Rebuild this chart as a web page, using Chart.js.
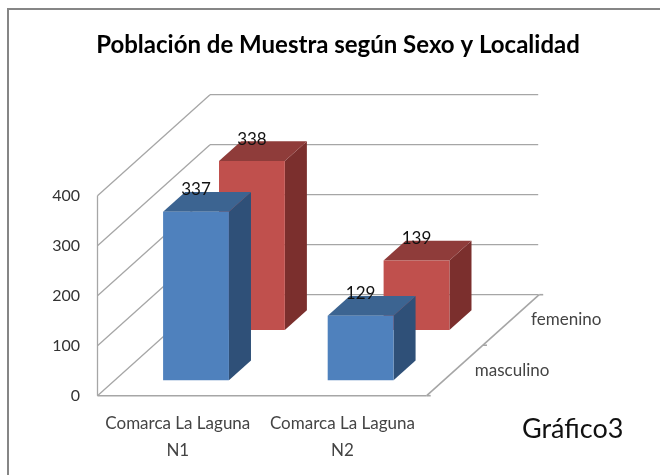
<!DOCTYPE html>
<html>
<head>
    <meta charset="utf-8"/>
    <title>Gráfico3</title>
    <script src="https://cdn.jsdelivr.net/npm/chart.js"></script>
    <style>
        html, body { margin: 0; padding: 0; background: #fff; }
        canvas { display: block; }
    </style>
</head>
<body>
    <canvas id="grafico" width="660" height="475"></canvas>

    <script>
        const titulo = 'Población de Muestra según Sexo y Localidad';
        const nota = 'Gráfico3';
        const categorias = [['Comarca La Laguna', 'N1'], ['Comarca La Laguna', 'N2']];
        const series = ['masculino', 'femenino'];
        const masculino = [337, 129];
        const femenino = [338, 139];
        const ticksY = [0, 100, 200, 300, 400];

        // Profundidad del piso en pixeles (de la pared frontal a la del fondo)
        const fondoX = 112.5;
        const fondoY = -101;
        // Cada serie ocupa una fila de profundidad
        const filaSerie = [0.153, 0.65];
        const grosorBarra = 0.196;
        const ajusteX = -1;

        const coloresFrente = ['#4f81bd', '#c0504d'];
        const coloresArriba = ['#3c6491', '#8f3c3a'];
        const coloresLado = ['#2f5078', '#7b2f2d'];

        function linea(ctx, x1, y1, x2, y2) {
            ctx.beginPath();
            ctx.moveTo(x1, y1);
            ctx.lineTo(x2, y2);
            ctx.stroke();
        }

        function cara(ctx, color, puntos) {
            ctx.fillStyle = color;
            ctx.beginPath();
            puntos.forEach((p, i) => i ? ctx.lineTo(p[0], p[1]) : ctx.moveTo(p[0], p[1]));
            ctx.closePath();
            ctx.fill();
        }

        const grafico3d = {
            id: 'grafico3d',
            afterLayout(chart) {
                // Centrar el titulo respecto al recuadro, no al area de las barras
                chart.titleBlock.left = 16;
                chart.titleBlock.right = 660;
            },
            beforeDatasetsDraw(chart) {
                const ctx = chart.ctx;
                const { x, y } = chart.scales;
                const izq = x.left, der = x.right;
                const base = y.getPixelForValue(0);

                ctx.save();
                ctx.strokeStyle = '#a6a6a6';
                ctx.lineWidth = 1.3;

                // Paredes: cada tick es una linea lateral y otra al fondo
                ticksY.forEach(v => {
                    const py = y.getPixelForValue(v);
                    linea(ctx, izq, py, izq + fondoX, py + fondoY);
                    linea(ctx, izq + fondoX, py + fondoY, der + fondoX - 1, py + fondoY);
                });
                linea(ctx, izq, y.getPixelForValue(ticksY[ticksY.length - 1]), izq, base);

                // Piso y marcas de profundidad
                ctx.lineWidth = 1.6;
                linea(ctx, izq, base, der, base);
                linea(ctx, der, base, der + fondoX, base + fondoY);
                [0, 0.5, 1].forEach(f => {
                    const mx = der + fondoX * f, my = base + fondoY * f;
                    linea(ctx, mx, my, mx + 4, my);
                });
                ctx.restore();
            },
            beforeDatasetDraw(chart, args) {
                const ctx = chart.ctx;
                const f = filaSerie[args.index];
                const dx = fondoX * grosorBarra, dy = fondoY * grosorBarra;
                ctx.save();
                ctx.translate(fondoX * f + ajusteX, fondoY * f);
                args.meta.data.forEach(b => {
                    const i = b.x - b.width / 2, d = b.x + b.width / 2;
                    cara(ctx, coloresLado[args.index], [[d, b.y], [d + dx, b.y + dy], [d + dx, b.base + dy], [d, b.base]]);
                    cara(ctx, coloresArriba[args.index], [[i, b.y], [i + dx, b.y + dy], [d + dx, b.y + dy], [d, b.y]]);
                });
            },
            afterDatasetDraw(chart) {
                chart.ctx.restore();
            },
            afterDraw(chart) {
                const ctx = chart.ctx;
                const { x, y } = chart.scales;
                const base = y.getPixelForValue(0);
                ctx.save();

                // Valores sobre las barras
                ctx.font = '17px Lato';
                ctx.fillStyle = '#111';
                ctx.textAlign = 'center';
                ctx.textBaseline = 'middle';
                chart.data.datasets.forEach((ds, s) => {
                    chart.getDatasetMeta(s).data.forEach((b, i) => {
                        ctx.fillText(ds.data[i], b.x + fondoX * filaSerie[s] + ajusteX, b.y + fondoY * filaSerie[s] - 22);
                    });
                });

                // Nombres de las series junto al piso
                ctx.font = '17px Lato';
                ctx.fillStyle = '#444';
                ctx.textAlign = 'left';
                series.forEach((nombre, s) => {
                    const f = s === 0 ? 0.25 : 0.75;
                    ctx.fillText(nombre, x.right + fondoX * f + 20, base + fondoY * f);
                });

                ctx.font = '27px Lato';
                ctx.fillStyle = '#111';
                ctx.fillText(nota, 522, 429);

                // Recuadro (abierto a la derecha y abajo)
                ctx.strokeStyle = '#868686';
                ctx.lineWidth = 2;
                ctx.beginPath();
                ctx.moveTo(8, 475);
                ctx.lineTo(8, 9);
                ctx.lineTo(660, 9);
                ctx.stroke();
                ctx.restore();
            }
        };

        function setupChart() {
            const ctx = document.getElementById('grafico').getContext('2d');
            new Chart(ctx, {
                type: 'bar',
                data: {
                    labels: categorias,
                    datasets: [
                        { label: series[0], data: masculino, backgroundColor: coloresFrente[0] },
                        { label: series[1], data: femenino, backgroundColor: coloresFrente[1] }
                    ]
                },
                options: {
                    responsive: false,
                    animation: false,
                    clip: false,
                    grouped: false,
                    barPercentage: 1,
                    categoryPercentage: 0.4,
                    layout: { padding: { left: 0, right: 233.3, top: 0, bottom: 0 } },
                    plugins: {
                        legend: { display: false },
                        tooltip: { enabled: false },
                        title: {
                            display: true,
                            text: titulo,
                            color: '#000',
                            font: { family: 'Lato', size: 24, weight: 'bold', lineHeight: 1.2 },
                            padding: { top: 30.5, bottom: 136.4 }
                        }
                    },
                    scales: {
                        x: {
                            grid: { display: false, drawTicks: false },
                            border: { display: false },
                            afterFit(scale) { scale.height = 79.3; },
                            ticks: {
                                color: '#444',
                                font: { family: 'Lato', size: 17, lineHeight: 1.6 },
                                padding: 14,
                                labelOffset: -2,
                                maxRotation: 0,
                                autoSkip: false
                            }
                        },
                        y: {
                            min: 0,
                            max: 400,
                            grid: { display: false, drawTicks: false },
                            border: { display: false },
                            afterFit(scale) { scale.width = 97.5; },
                            ticks: {
                                stepSize: 100,
                                color: '#333',
                                font: { family: 'Lato', size: 16 },
                                padding: 17.5
                            }
                        }
                    }
                },
                plugins: [grafico3d]
            });
        }

        document.addEventListener('DOMContentLoaded', setupChart);
    </script>
</body>
</html>
